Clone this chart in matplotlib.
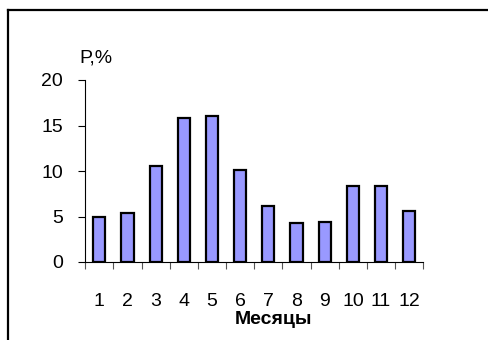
import numpy as np
import matplotlib
matplotlib.use('Agg')
import matplotlib.pyplot as plt
from matplotlib.lines import Line2D

plt.rcParams['font.family'] = ['Liberation Sans', 'DejaVu Sans']

# Monthly share, %
months = ['1', '2', '3', '4', '5', '6', '7', '8', '9', '10', '11', '12']
share = [5.0, 5.4, 10.6, 15.8, 16.0, 10.1, 6.1, 4.3, 4.4, 8.4, 8.3, 5.6]
y_ticks = [0, 5, 10, 15, 20]

FS = 14

fig = plt.figure(figsize=(4.88, 3.40), dpi=100)
ax = fig.add_axes([85.3 / 488, 78 / 340, 338 / 488, 182 / 340])

x = np.arange(len(months))
ax.bar(x, share, width=0.43, color='#9999ff', edgecolor='black', linewidth=1.6)

ax.set_xlim(-0.5, len(months) - 0.5)
ax.set_ylim(0, 20)

# major ticks sit between categories, labels go on minor ticks at the centres
ax.set_xticks(np.arange(-0.5, len(months), 1.0))
ax.set_xticklabels([])
ax.set_xticks(x, minor=True)
ax.set_xticklabels(months, minor=True)
ax.tick_params(axis='x', which='major', direction='out', length=5, width=0.8, color='#555555')
ax.tick_params(axis='x', which='minor', length=0, pad=22, labelsize=FS)

ax.set_yticks(y_ticks)
ax.set_yticklabels([str(v) for v in y_ticks])
ax.tick_params(axis='y', direction='out', length=5, width=0.8, pad=11, labelsize=FS)

for side in ['top', 'right']:
    ax.spines[side].set_visible(False)
for side in ['left', 'bottom']:
    ax.spines[side].set_linewidth(0.8)
    ax.spines[side].set_color('black')

fig.text(79 / 488, (340 - 58) / 340, 'P,%', fontsize=FS, ha='left', va='center')
fig.text(274 / 488, (340 - 319) / 340, 'Месяцы', fontsize=FS, fontweight='bold',
         ha='center', va='center')

# frame around the chart area
fig.add_artist(Line2D([8 / 488, 1.0], [1 - 10 / 340, 1 - 10 / 340],
                      transform=fig.transFigure, color='black', linewidth=1.6))
fig.add_artist(Line2D([8 / 488, 8 / 488], [1 - 10 / 340, 0.0],
                      transform=fig.transFigure, color='black', linewidth=1.6))

fig.savefig('out.png', dpi=100)
